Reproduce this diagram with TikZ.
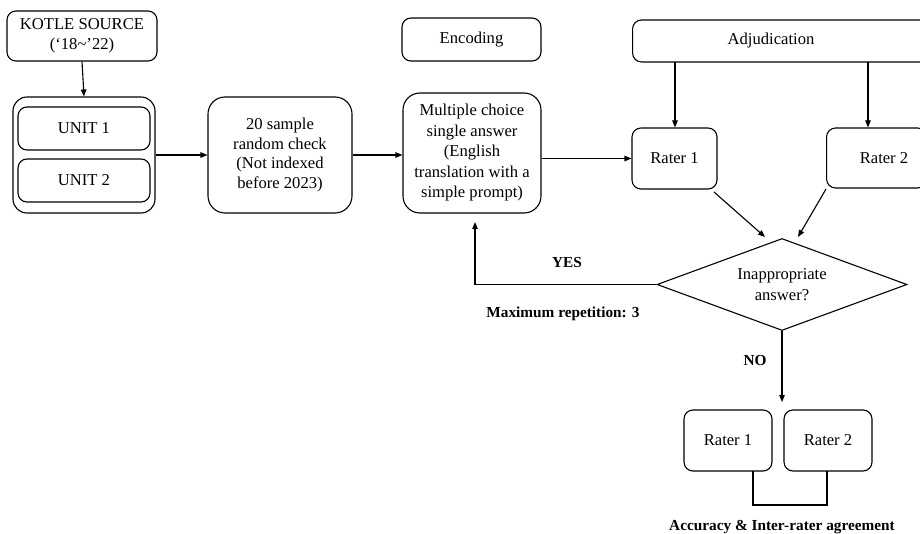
\documentclass[tikz,border=0pt]{standalone}
\usepackage{fontspec}
\setmainfont{Liberation Serif}
\usetikzlibrary{arrows.meta,shapes.geometric}
\tikzset{
  box/.style={draw, line width=1.1pt, rounded corners=9pt, inner sep=0pt, align=center,
    font=\fontsize{16.6}{19.5}\selectfont},
  bigbox/.style={box, rounded corners=17pt},
  lbl/.style={inner sep=0pt, font=\fontsize{15.3}{17}\selectfont\bfseries},
  conn/.style={line width=1.1pt},
  arr/.style={conn, -{Triangle[length=7pt,width=5.5pt]}}
}
\begin{document}
\begin{tikzpicture}[x=1pt,y=-1pt]
\clip (0,0) rectangle (920,534);
\fill[white] (0,0) rectangle (920,534);
% left column
\node[box, minimum width=150pt, minimum height=50pt] (src) at (82,36) {KOTLE SOURCE\\(‘18\textasciitilde’22)};
\node[bigbox, rounded corners=14pt, minimum width=142pt, minimum height=116pt] (outer) at (84,155) {};
\node[box, minimum width=132pt, minimum height=43pt] (u1) at (84,128.5) {UNIT 1};
\node[box, minimum width=132pt, minimum height=43pt] (u2) at (84,180.5) {UNIT 2};
\node[bigbox, minimum width=144pt, minimum height=116pt] (samp) at (280,155) {20 sample\\random check\\(Not indexed\\before 2023)};
\node[box, minimum width=139pt, minimum height=43pt] (enc) at (471.5,39.5) {Encoding};
\node[bigbox, minimum width=138pt, minimum height=120pt, font=\fontsize{16.6}{20.5}\selectfont] (mc) at (472,153) {Multiple choice\\single answer\\(English\\translation with a\\simple prompt)};
% adjudication
\node[box, minimum width=310pt, minimum height=42pt, anchor=west] (adj) at (632,41) {};
\node[font=\fontsize{16.6}{19.5}\selectfont, inner sep=0pt] (adjt) at (771,41) {Adjudication};
\node[box, minimum width=85pt, minimum height=61pt] (r1) at (674.5,158.5) {Rater 1};
\node[box, minimum width=100pt, minimum height=60pt, anchor=west] (r2) at (826,158) {};
\node[font=\fontsize{16.6}{19.5}\selectfont, inner sep=0pt] (r2t) at (884,158) {Rater 2};
% diamond
\node[draw, line width=1.1pt, diamond, aspect=2.72, minimum width=250pt, minimum height=92pt, inner sep=0pt,
  align=center, font=\fontsize{16.6}{21}\selectfont] (dia) at (782,284.5) {Inappropriate\\answer?};
% bottom raters
\node[box, minimum width=88pt, minimum height=61pt] (b1) at (728,440.5) {Rater 1};
\node[box, minimum width=88pt, minimum height=61pt] (b2) at (828,440.5) {Rater 2};
% labels
\node[lbl] (yes) at (567,263) {YES};
\node[lbl] (maxr) at (563,314) {Maximum repetition: 3};
\node[lbl] (no) at (755,361) {NO};
\node[lbl] (acc) at (782,527) {Accuracy \& Inter-rater agreement};
% coordinates
\coordinate (a1) at (675,62);
\coordinate (a2) at (868,62);
\coordinate (d1) at (765,237);
\coordinate (d2) at (798,237);
\coordinate (r1c) at (714,192);
\coordinate (r2c) at (826,189);
\coordinate (yup) at (475,222);
\coordinate (nodown) at (782,402);
\coordinate (bk1) at (753,471);
\coordinate (bk2) at (827,471);
% connectors
\draw[arr] (src.south) -- (outer.north);
\draw[arr] (outer.east) -- (samp.west);
\draw[arr] (samp.east) -- (samp.east -| mc.west);
\draw[arr] (mc.east |- r1.west) -- (r1.west);
\draw[arr] (a1) -- (a1 |- r1.north);
\draw[arr] (a2) -- (a2 |- r2.north);
\draw[arr] (r1c) -- (d1);
\draw[arr] (r2c) -- (d2);
\draw[arr] (dia.west) -- (dia.west -| yup) -- (yup);
\draw[arr] (dia.south) -- (nodown);
\draw[conn] (bk1) -- ++(0,34) -| (bk2);
\end{tikzpicture}
\end{document}
